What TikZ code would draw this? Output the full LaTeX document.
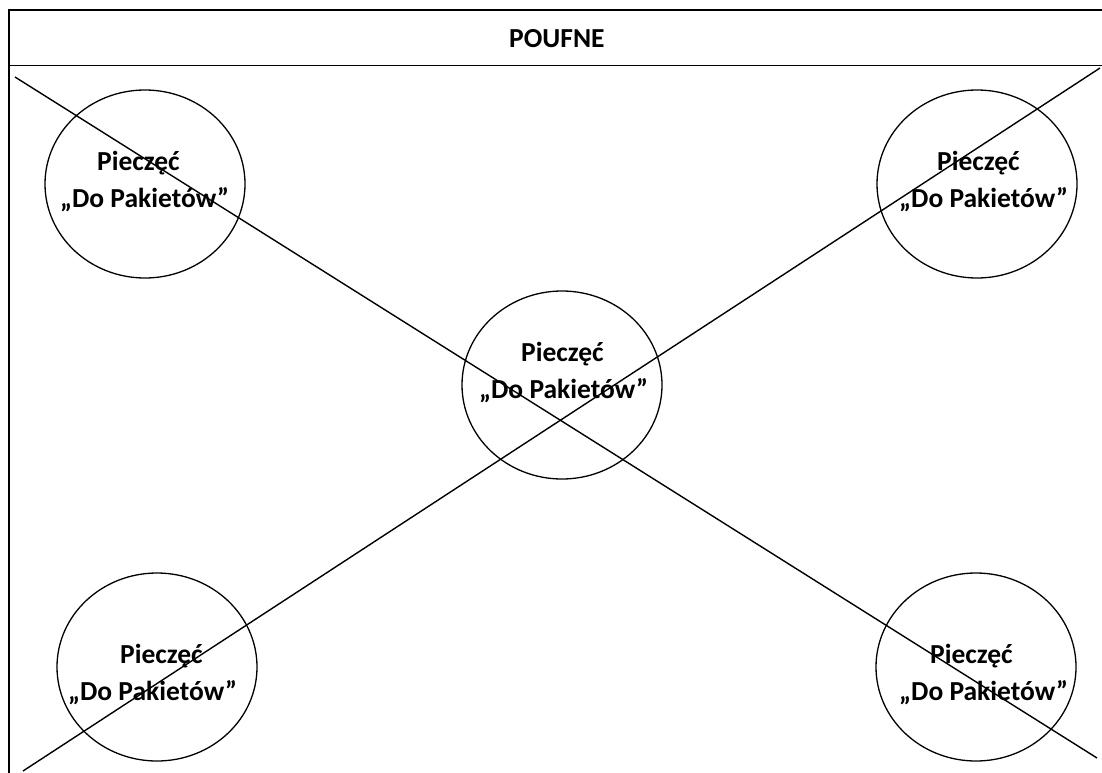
\documentclass[tikz,border=0pt]{standalone}
\usepackage{fontspec}
\setmainfont{Carlito}
\usetikzlibrary{shapes.geometric}
\begin{document}
\begin{tikzpicture}[x=1pt,y=-1pt,
  frameline/.style={line width=1.6pt},
  crossline/.style={line width=1.4pt},
  seal/.style={draw, ellipse, line width=1.3pt, minimum width=200pt, minimum height=188pt, inner sep=0pt},
  lab/.style={inner sep=0pt, anchor=base west, font=\fontsize{27.5}{37}\selectfont\bfseries}]
\useasboundingbox (0,0) rectangle (1102,773);
% frame
\coordinate (tr) at (1102,10);
\coordinate (tl) at (9,10);
\coordinate (bl) at (9,773);
\coordinate (hl) at (9,65.5);
\coordinate (hr) at (1102,65.5);
\draw[frameline] (tr) -- (tl) -- (bl);
\draw[frameline] (hl) -- (hr);
\node[lab] (title) at (509,48) {POUFNE};
% seals
\node[seal] (s1) at (145,184) {};
\node[seal] (s2) at (977,184) {};
\node[seal] (s3) at (562,385) {};
\node[seal] (s4) at (157,667) {};
\node[seal] (s5) at (976,667) {};
\node[lab] (p1) at (97,170) {Pieczęć};
\node[lab] (d1) at (60,207) {„Do Pakietów”};
\node[lab] (p2) at (937,170) {Pieczęć};
\node[lab] (d2) at (899,207) {„Do Pakietów”};
\node[lab] (p3) at (521,361) {Pieczęć};
\node[lab] (d3) at (479,398) {„Do Pakietów”};
\node[lab] (p4) at (120,663) {Pieczęć};
\node[lab] (d4) at (68,700) {„Do Pakietów”};
\node[lab] (p5) at (930,663) {Pieczęć};
\node[lab] (d5) at (899,700) {„Do Pakietów”};
% crossing lines
\coordinate (a1) at (15,77);
\coordinate (a2) at (1097,758);
\coordinate (b1) at (1100,68);
\coordinate (b2) at (23,771);
\draw[crossline] (a1) -- (a2);
\draw[crossline] (b1) -- (b2);
\end{tikzpicture}
\end{document}
